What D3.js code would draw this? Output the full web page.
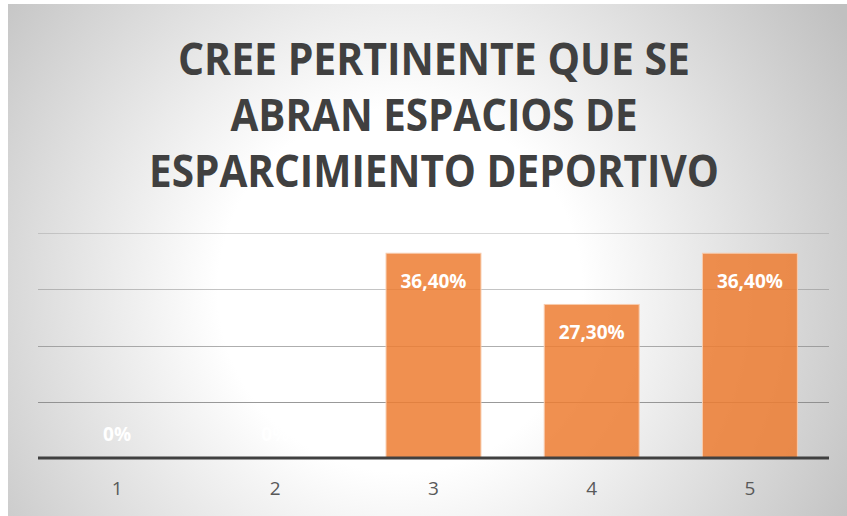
<!DOCTYPE html>
<html>
<head>
<meta charset="utf-8">
<script src="https://cdn.jsdelivr.net/npm/d3@7"></script>
<style>
body { margin: 0; background: #fff; }
text { font-family: "Open Sans", "Noto Sans", sans-serif; }
</style>
</head>
<body>
<div id="chart"></div>
<script>
var svgWidth = 847;
var svgHeight = 516;

var categories = ["1", "2", "3", "4", "5"];
var values = [0, 0, 36.4, 27.3, 36.4];
var valueLabels = ["0%", "0%", "36,40%", "27,30%", "36,40%"];
var titleLines = ["CREE PERTINENTE QUE SE", "ABRAN ESPACIOS DE", "ESPARCIMIENTO DEPORTIVO"];
var titleWidths = [512, 407, 570];
var gridTicks = [10, 20, 30, 40];

var margin = { top: 233, right: 18, bottom: 58, left: 38 };
var width = svgWidth - margin.left - margin.right;
var height = svgHeight - margin.top - margin.bottom;

var svg = d3.select("#chart")
    .append("svg")
    .attr("width", svgWidth)
    .attr("height", svgHeight);

// background gradient
var defs = svg.append("defs");
var grad = defs.append("radialGradient")
    .attr("id", "bg")
    .attr("gradientUnits", "userSpaceOnUse")
    .attr("cx", 400).attr("cy", 290).attr("r", 520);
grad.append("stop").attr("offset", "0%").attr("stop-color", "#ffffff");
grad.append("stop").attr("offset", "35%").attr("stop-color", "#ffffff");
grad.append("stop").attr("offset", "100%").attr("stop-color", "#c0c0c0");

svg.append("rect")
    .attr("x", 8).attr("y", 4)
    .attr("width", svgWidth - 8).attr("height", svgHeight - 4)
    .attr("fill", "url(#bg)");

// title
var title = svg.append("g");
titleLines.forEach(function (line, i) {
    title.append("text")
        .attr("x", 434)
        .attr("y", 75 + i * 56)
        .attr("text-anchor", "middle")
        .attr("font-size", 44)
        .attr("font-weight", 700)
        .attr("fill", "#404040")
        .attr("textLength", titleWidths[i])
        .attr("lengthAdjust", "spacingAndGlyphs")
        .text(line);
});

var chartGroup = svg.append("g")
    .attr("transform", `translate(${margin.left}, ${margin.top})`);

var xScale = d3.scaleBand()
    .domain(categories)
    .range([0, width])
    .paddingInner(0.4)
    .paddingOuter(0.2);

var yScale = d3.scaleLinear()
    .domain([0, 40])
    .range([height, 0]);

var gridOpacity = d3.scaleLinear().domain([10, 40]).range([0.8, 0.3]);

chartGroup.append("g")
    .selectAll("line")
    .data(gridTicks)
    .enter()
    .append("line")
    .attr("x1", 0)
    .attr("x2", width)
    .attr("y1", d => Math.round(yScale(d)) + 0.5)
    .attr("y2", d => Math.round(yScale(d)) + 0.5)
    .attr("stroke", "#808080")
    .attr("stroke-opacity", d => gridOpacity(d));

var data = categories.map(function (c, i) {
    return { cat: c, value: values[i], label: valueLabels[i] };
});

chartGroup.selectAll("rect.bar")
    .data(data)
    .enter()
    .append("rect")
    .attr("class", "bar")
    .attr("x", d => xScale(d.cat))
    .attr("y", d => yScale(d.value))
    .attr("width", xScale.bandwidth())
    .attr("height", d => height - yScale(d.value))
    .attr("fill", "#ED7D31")
    .attr("fill-opacity", 0.85)
    .attr("stroke", "#F8CBAD")
    .attr("stroke-width", d => d.value > 0 ? 1 : 0);

chartGroup.selectAll("text.val")
    .data(data)
    .enter()
    .append("text")
    .attr("class", "val")
    .attr("x", d => xScale(d.cat) + xScale.bandwidth() / 2)
    .attr("y", d => d.value > 0 ? yScale(d.value) + 35 : yScale(d.value) - 17)
    .attr("text-anchor", "middle")
    .attr("font-size", 19)
    .attr("font-weight", 700)
    .attr("fill", "#ffffff")
    .text(d => d.label);

// baseline
chartGroup.append("line")
    .attr("x1", 0).attr("x2", width)
    .attr("y1", height).attr("y2", height)
    .attr("stroke", "#404040")
    .attr("stroke-width", 3);

var bottomAxis = d3.axisBottom(xScale).tickSize(0).tickPadding(24);
var xAxis = chartGroup.append("g")
    .attr("transform", `translate(0, ${height})`)
    .call(bottomAxis);
xAxis.select(".domain").remove();
xAxis.selectAll("text")
    .attr("font-size", 19)
    .attr("font-family", "\"Open Sans\", sans-serif")
    .attr("fill", "#595959");
</script>
</body>
</html>
